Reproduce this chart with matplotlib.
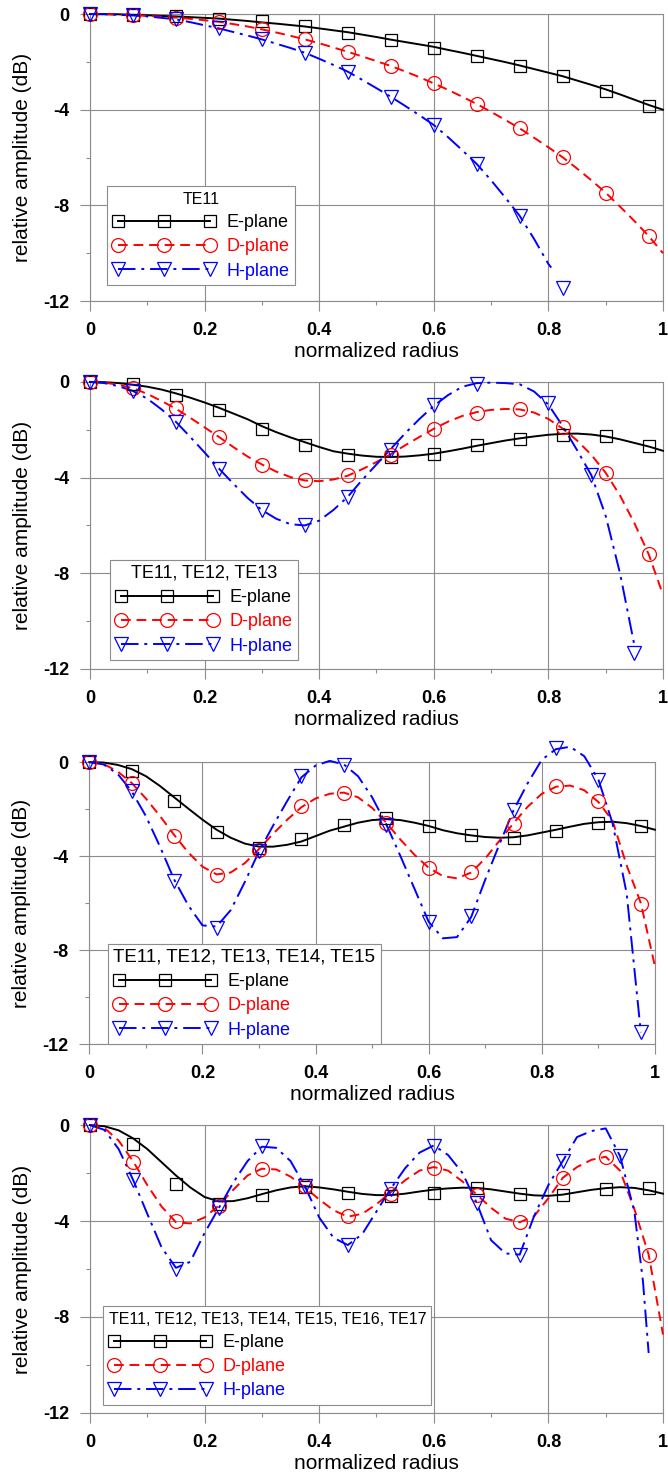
# 開口面の振幅分布（TE11 ... TE17 モードの合成）

import matplotlib.pyplot as plt
import numpy as np
from matplotlib.lines import Line2D
from matplotlib.ticker import MultipleLocator

plt.rcParams['font.family'] = ['Liberation Sans', 'DejaVu Sans']
plt.rcParams['axes.unicode_minus'] = False

# x座標（曲線は0.025刻み、マーカーは0.075刻み）
x_line = np.round(np.arange(0, 1.0001, 0.025), 3)
x_mark = np.round(np.arange(0, 0.9751, 0.075), 3)

# --- TE11 ---
p1_e_line = [0, 0, -0.01, -0.03, -0.05, -0.08, -0.1, -0.13, -0.16, -0.19, -0.24, -0.29, -0.35, -0.4,
             -0.46, -0.52, -0.6, -0.68, -0.76, -0.86, -0.96, -1.07, -1.17, -1.27, -1.37, -1.5, -1.62,
             -1.75, -1.88, -2.01, -2.15, -2.3, -2.45, -2.6, -2.78, -2.96, -3.15, -3.36, -3.58, -3.8, -4.0]
p1_d_line = [0, -0.01, -0.03, -0.05, -0.08, -0.11, -0.15, -0.2, -0.26, -0.32, -0.42, -0.52, -0.64,
             -0.77, -0.91, -1.06, -1.22, -1.4, -1.58, -1.77, -1.97, -2.17, -2.4, -2.64, -2.9, -3.17,
             -3.46, -3.76, -4.09, -4.43, -4.78, -5.17, -5.57, -5.99, -6.46, -6.95, -7.47, -8.05,
             -8.65, -9.28, -10.0]
p1_h_x = list(x_line[:33]) + [0.805]
p1_h_line = [0, -0.01, -0.03, -0.06, -0.1, -0.16, -0.22, -0.34, -0.47, -0.6, -0.75, -0.9, -1.06,
             -1.24, -1.42, -1.62, -1.87, -2.13, -2.41, -2.75, -3.1, -3.46, -3.84, -4.23, -4.64,
             -5.15, -5.7, -6.27, -6.95, -7.68, -8.44, -9.4, -10.45, -10.6]
p1_e_mark = [0, -0.05, -0.1, -0.2, -0.3, -0.5, -0.78, -1.1, -1.4, -1.75, -2.18, -2.6, -3.2, -3.85]
p1_d_mark = [0, -0.05, -0.15, -0.32, -0.64, -1.06, -1.58, -2.17, -2.9, -3.76, -4.78, -5.99, -7.47, -9.28]
p1_h_mark_x = list(x_mark[:12])
p1_h_mark = [0, -0.05, -0.22, -0.6, -1.06, -1.62, -2.41, -3.46, -4.64, -6.27, -8.44, -11.45]

# --- TE11, TE12, TE13 ---
p2_e_line = [0, -0.01, -0.05, -0.12, -0.2, -0.32, -0.48, -0.66, -0.86, -1.08, -1.32, -1.56, -1.85,
             -2.1, -2.32, -2.52, -2.72, -2.9, -3.0, -3.08, -3.13, -3.14, -3.12, -3.07, -3.0, -2.9,
             -2.79, -2.67, -2.56, -2.45, -2.36, -2.28, -2.21, -2.17, -2.16, -2.2, -2.28, -2.4, -2.55,
             -2.7, -2.88]
p2_d_line = [0, -0.03, -0.12, -0.26, -0.5, -0.8, -1.12, -1.5, -1.9, -2.3, -2.72, -3.12, -3.45, -3.75,
             -3.98, -4.12, -4.15, -4.08, -3.92, -3.65, -3.35, -3.02, -2.65, -2.3, -1.96, -1.66, -1.42,
             -1.26, -1.17, -1.13, -1.15, -1.28, -1.55, -1.95, -2.45, -3.05, -3.8, -4.75, -5.9, -7.2,
             -8.9]
p2_h_x = list(x_line[:39])
p2_h_line = [0, -0.05, -0.18, -0.38, -0.7, -1.15, -1.67, -2.3, -2.95, -3.62, -4.25, -4.85, -5.36,
             -5.72, -5.95, -6.0, -5.8, -5.35, -4.8, -4.1, -3.45, -2.8, -2.15, -1.55, -1.0, -0.55,
             -0.2, -0.05, -0.03, -0.05, -0.1, -0.4, -0.95, -1.85, -2.85, -3.9, -5.6, -8.0, -11.0]
p2_e_mark = [0, -0.1, -0.56, -1.18, -1.95, -2.65, -3.04, -3.16, -3.02, -2.65, -2.37, -2.23, -2.26, -2.69]
p2_d_mark = [0, -0.24, -1.11, -2.3, -3.48, -4.11, -3.91, -3.06, -1.95, -1.28, -1.14, -1.88, -3.8, -7.21]
p2_h_mark_x = [0, 0.075, 0.15, 0.225, 0.3, 0.375, 0.45, 0.525, 0.6, 0.675, 0.8, 0.875, 0.95]
p2_h_mark = [0, -0.38, -1.67, -3.62, -5.36, -5.99, -4.8, -2.85, -0.97, -0.07, -0.9, -3.9, -11.35]

# --- TE11 ... TE15 ---
p3_e_line = [0, -0.02, -0.12, -0.3, -0.6, -1.02, -1.5, -1.98, -2.45, -2.88, -3.22, -3.47, -3.6, -3.6,
             -3.52, -3.38, -3.15, -2.92, -2.75, -2.58, -2.47, -2.43, -2.47, -2.58, -2.72, -2.9, -3.03,
             -3.12, -3.19, -3.22, -3.2, -3.12, -3.0, -2.88, -2.75, -2.63, -2.56, -2.54, -2.6, -2.72,
             -2.88]
p3_d_line = [0, -0.08, -0.4, -0.89, -1.55, -2.3, -3.1, -3.85, -4.45, -4.78, -4.7, -4.3, -3.7, -3.05,
             -2.45, -1.92, -1.55, -1.35, -1.3, -1.5, -1.95, -2.58, -3.3, -3.95, -4.5, -4.85, -4.95,
             -4.7, -4.1, -3.35, -2.6, -1.9, -1.35, -1.05, -1.0, -1.2, -1.7, -2.5, -4.4, -6.0, -8.7]
p3_h_x = list(x_line[:40])
p3_h_line = [0, -0.1, -0.5, -1.25, -2.3, -3.6, -5.0, -6.1, -6.95, -7.0, -6.3, -5.1, -3.8, -2.7,
             -1.65, -0.65, -0.15, 0.05, -0.1, -0.6, -1.5, -2.65, -4.0, -5.4, -6.8, -7.5, -7.45, -6.6,
             -5.0, -3.5, -2.05, -0.9, 0.1, 0.55, 0.65, 0.25, -0.75, -2.6, -5.6, -11.5]
p3_e_mark = [0, -0.4, -1.67, -2.99, -3.66, -3.28, -2.67, -2.38, -2.74, -3.12, -3.23, -2.95, -2.6, -2.71]
p3_d_mark = [0, -0.89, -3.16, -4.79, -3.73, -1.89, -1.32, -2.6, -4.51, -4.69, -2.62, -1.04, -1.67, -6.03]
p3_h_mark_x = list(x_mark)
p3_h_mark = [0, -1.25, -5.08, -7.06, -3.8, -0.61, -0.11, -2.67, -6.82, -6.54, -2.03, 0.6, -0.78, -11.5]

# --- TE11 ... TE17 ---
p4_e_line = [0, -0.05, -0.22, -0.55, -1.0, -1.55, -2.1, -2.6, -3.0, -3.18, -3.17, -3.05, -2.88,
             -2.72, -2.6, -2.55, -2.6, -2.68, -2.78, -2.87, -2.92, -2.92, -2.86, -2.77, -2.69, -2.64,
             -2.61, -2.62, -2.68, -2.77, -2.86, -2.93, -2.95, -2.9, -2.8, -2.7, -2.63, -2.59, -2.62,
             -2.72, -2.86]
p4_d_line = [0, -0.12, -0.65, -1.5, -2.5, -3.4, -4.05, -4.1, -3.85, -3.35, -2.7, -2.1, -1.82, -1.85,
             -2.15, -2.6, -3.1, -3.55, -3.82, -3.7, -3.3, -2.8, -2.3, -1.9, -1.75, -1.9, -2.35, -2.9,
             -3.45, -3.9, -4.05, -3.8, -3.05, -2.2, -1.75, -1.45, -1.32, -1.9, -3.5, -5.4, -8.73]
p4_h_x = list(x_line[:39]) + [0.965, 0.975]
p4_h_line = [0, -0.2, -1.0, -2.27, -3.7, -5.1, -5.95, -5.7, -4.5, -3.45, -2.4, -1.5, -0.9, -0.95,
             -1.5, -2.55, -3.85, -4.7, -5.0, -4.55, -3.6, -2.65, -1.8, -1.15, -0.85, -1.25, -2.0,
             -3.25, -4.8, -5.35, -5.4, -3.8, -2.5, -1.5, -0.5, -0.25, -0.14, -1.29, -3.6, -6.5, -9.5]
p4_e_mark = [0, -0.81, -2.45, -3.31, -2.92, -2.57, -2.82, -2.96, -2.82, -2.61, -2.86, -2.92, -2.68, -2.64]
p4_d_mark = [0, -1.53, -4.0, -3.38, -1.85, -2.55, -3.8, -2.86, -1.78, -2.92, -4.03, -2.2, -1.34, -5.4]
p4_h_mark_x = [0, 0.075, 0.15, 0.225, 0.3, 0.375, 0.45, 0.525, 0.6, 0.675, 0.75, 0.825, 0.925]
p4_h_mark = [0, -2.27, -6.02, -3.45, -0.88, -2.55, -4.98, -2.68, -0.88, -3.24, -5.4, -1.5, -1.29]

titles = ['TE11', 'TE11, TE12, TE13', 'TE11, TE12, TE13, TE14, TE15',
          'TE11, TE12, TE13, TE14, TE15, TE16, TE17']
plane_labels = ['E-plane', 'D-plane', 'H-plane']
x_ticks = [0, 0.2, 0.4, 0.6, 0.8, 1.0]
x_ticklabels = ['0', '0.2', '0.4', '0.6', '0.8', '1']
y_ticks = [0, -4, -8, -12]

# 線のスタイル
styles = [
    dict(color='black', ls='-', marker='s', ms=9),
    dict(color='#ff0000', ls=(0, (5, 3)), marker='o', ms=10),
    dict(color='#0000ff', ls=(0, (9, 3, 1.5, 3)), marker='v', ms=10),
]
gc = '#8c8c8c'

panels = [
    dict(lines=[(x_line, p1_e_line), (x_line, p1_d_line), (p1_h_x, p1_h_line)],
         marks=[(x_mark, p1_e_mark), (x_mark, p1_d_mark), (p1_h_mark_x, p1_h_mark)],
         rect=[0.1347, 0.7963, 0.8578, 0.1942], leg=(0.03, 0.056), tfs=11.5, align='center'),
    dict(lines=[(x_line, p2_e_line), (x_line, p2_d_line), (p2_h_x, p2_h_line)],
         marks=[(x_mark, p2_e_mark), (x_mark, p2_d_mark), (p2_h_mark_x, p2_h_mark)],
         rect=[0.1347, 0.5474, 0.8578, 0.1942], leg=(0.035, 0.031), tfs=13, align='center'),
    dict(lines=[(x_line, p3_e_line), (x_line, p3_d_line), (p3_h_x, p3_h_line)],
         marks=[(x_mark, p3_e_mark), (x_mark, p3_d_mark), (p3_h_mark_x, p3_h_mark)],
         rect=[0.1337, 0.2936, 0.8468, 0.1908], leg=(0.033, 0.0), tfs=13.5, align='left'),
    dict(lines=[(x_line, p4_e_line), (x_line, p4_d_line), (p4_h_x, p4_h_line)],
         marks=[(x_mark, p4_e_mark), (x_mark, p4_d_mark), (p4_h_mark_x, p4_h_mark)],
         rect=[0.1347, 0.0440, 0.8578, 0.1948], leg=(0.023, 0.028), tfs=11.5, align='left'),
]

fig = plt.figure(figsize=(6.68, 14.78), dpi=100)

for i, p in enumerate(panels):
    ax = fig.add_axes(p['rect'])
    for (lx, ly), (mx, my), st in zip(p['lines'], p['marks'], styles):
        ax.plot(lx, ly, color=st['color'], ls=st['ls'], lw=1.4, clip_on=False, zorder=3)
        ax.plot(mx, my, ls='none', marker=st['marker'], ms=st['ms'], mfc='none',
                mec=st['color'], mew=0.9, clip_on=False, zorder=4)

    ax.set_xlim(0, 1)
    ax.set_ylim(-12, 0)
    ax.set_xticks(x_ticks)
    ax.set_xticklabels(x_ticklabels)
    ax.set_yticks(y_ticks)
    ax.xaxis.set_minor_locator(MultipleLocator(0.1))
    ax.yaxis.set_minor_locator(MultipleLocator(2))
    ax.tick_params(which='major', length=7, width=0.8, color=gc, labelsize=13, pad=8)
    ax.tick_params(which='minor', length=3, width=0.8, color=gc)
    for lab in ax.get_xticklabels() + ax.get_yticklabels():
        lab.set_fontweight('bold')
    ax.grid(which='major', color=gc, lw=0.8)
    for s in ax.spines.values():
        s.set_color(gc)
        s.set_linewidth(0.8)
    ax.set_axisbelow(True)
    ax.set_xlabel('normalized radius', fontsize=15, labelpad=2)
    ax.set_ylabel('relative amplitude (dB)', fontsize=15, labelpad=8)

    handles = [Line2D([], [], color=st['color'], ls=st['ls'], lw=1.4, marker=st['marker'],
                      ms=st['ms'], mfc='none', mew=0.9) for st in styles]
    leg = ax.legend(handles, plane_labels, title=titles[i], title_fontsize=p['tfs'], fontsize=13,
                    loc='lower left', bbox_to_anchor=p['leg'], borderaxespad=0, numpoints=3,
                    handlelength=5.7, handletextpad=0.6, labelspacing=0.4, borderpad=0.3,
                    fancybox=False, framealpha=1, edgecolor=gc, labelcolor='linecolor',
                    alignment=p['align'])
    leg.get_frame().set_linewidth(0.8)
    leg.set_zorder(5)

plt.savefig('out.png', dpi=100)
